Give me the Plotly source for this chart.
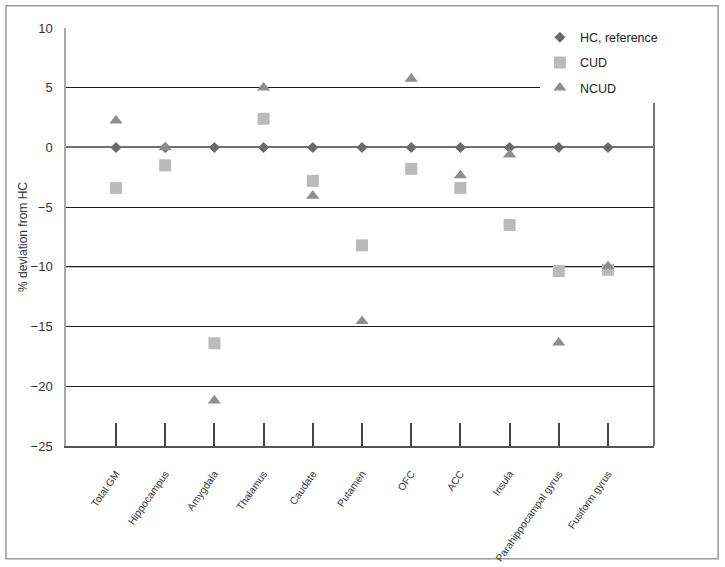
import plotly.graph_objects as go

regions = ["Total GM", "Hippocampus", "Amygdala", "Thalamus", "Caudate", "Putamen",
           "OFC", "ACC", "Insula", "Parahippocampal gyrus", "Fusiform gyrus"]
hc_reference = [0, 0, 0, 0, 0, 0, 0, 0, 0, 0, 0]
cud = [-3.4, -1.5, -16.4, 2.4, -2.8, -8.2, -1.8, -3.4, -6.5, -10.35, -10.25]
ncud = [2.25, 0.0, -21.2, 5.0, -4.05, -14.55, 5.75, -2.35, -0.6, -16.35, -9.95]
y_ticks = [10, 5, 0, -5, -10, -15, -20, -25]

FONT = "Liberation Sans, Arial, Helvetica, sans-serif"

fig = go.Figure()
fig.add_trace(go.Scatter(
    x=regions, y=hc_reference, name="HC, reference", mode="markers",
    marker=dict(symbol="diamond", size=8.5, color="#6a6a6a"),
    legendgroup="a"))
fig.add_trace(go.Scatter(
    x=regions, y=cud, name="CUD", mode="markers",
    marker=dict(symbol="square", size=12, color="#bababa"),
    legendgroup="b"))
fig.add_trace(go.Scatter(
    x=regions, y=ncud, name="NCUD", mode="markers",
    marker=dict(symbol="triangle-up", size=11.5, color="#8e8e8e"),
    legendgroup="c"))

fig.update_layout(
    width=725, height=567,
    margin=dict(l=66, r=71, t=28, b=121),
    paper_bgcolor="white", plot_bgcolor="white",
    font=dict(family=FONT, color="#333333"),
    showlegend=True,
    legend=dict(x=0.806, y=1.013, xanchor="left", yanchor="top",
                bgcolor="white", font=dict(size=12.5, color="#222222"),
                traceorder="grouped", tracegroupgap=6),
    xaxis=dict(type="category", range=[-1.016, 10.935], automargin=False,
               showline=True, linecolor="#555555", linewidth=1.5,
               ticks="inside", ticklen=23, tickwidth=1.5, tickcolor="#444444",
               tickangle=-55, tickfont=dict(size=10.3, color="#333333"),
               ticklabelstandoff=16, showgrid=False, zeroline=False),
    yaxis=dict(range=[-25, 10], tickvals=y_ticks, showgrid=True, automargin=False,
               gridcolor="#1e1e1e", gridwidth=1.3,
               zeroline=True, zerolinecolor="#707070", zerolinewidth=2,
               showline=True, linecolor="#a8a8a8", linewidth=1.5,
               ticks="", ticklabelstandoff=9,
               tickfont=dict(size=13, color="#333333"),
               title=dict(text="% deviation from HC", standoff=0,
                          font=dict(size=12, color="#333333"))),
    shapes=[
        dict(type="line", xref="paper", yref="y", x0=0, x1=1, y0=-10, y1=-10,
             line=dict(color="#7a7a7a", width=1.5), layer="below"),
        dict(type="line", xref="paper", yref="paper", x0=1, x1=1, y0=0, y1=1,
             line=dict(color="#444444", width=1.5), layer="below"),
        dict(type="rect", xref="paper", yref="paper",
             x0=-0.102, x1=1.109, y0=-0.270, y1=1.053,
             line=dict(color="#9a9a9a", width=1.5), layer="below"),
    ],
)

fig.write_html("out.html", config={"displayModeBar": False},
               post_script="document.body.style.margin='0';")
